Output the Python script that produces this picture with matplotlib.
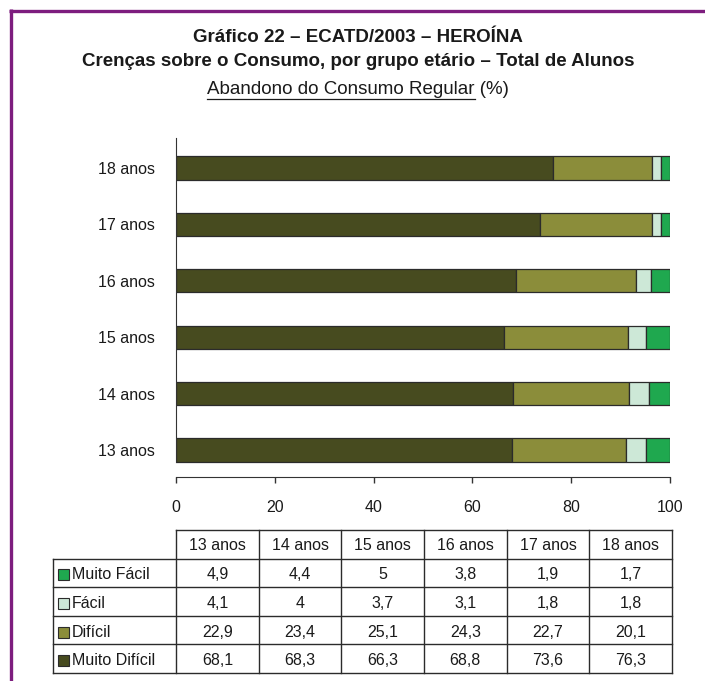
import numpy as np
import matplotlib
matplotlib.use("Agg")
import matplotlib.pyplot as plt
from matplotlib.patches import Rectangle

plt.rcParams['font.family'] = ['Liberation Sans', 'DejaVu Sans']

# data (%)
idades = ['13 anos', '14 anos', '15 anos', '16 anos', '17 anos', '18 anos']
muito_facil = [4.9, 4.4, 5.0, 3.8, 1.9, 1.7]
facil = [4.1, 4.0, 3.7, 3.1, 1.8, 1.8]
dificil = [22.9, 23.4, 25.1, 24.3, 22.7, 20.1]
muito_dificil = [68.1, 68.3, 66.3, 68.8, 73.6, 76.3]

categorias = ['Muito Fácil', 'Fácil', 'Difícil', 'Muito Difícil']
cores = ['#1fa84f', '#cde8d7', '#8b8d3a', '#474b1f']

W, H = 705, 681
fig = plt.figure(figsize=(W / 100, H / 100), dpi=100)

# overlay in pixel coordinates for frame, titles and table
ov = fig.add_axes([0, 0, 1, 1])
ov.set_xlim(0, W)
ov.set_ylim(H, 0)
ov.axis('off')

purple = '#7d1d7e'
ov.plot([9, W], [10.5, 10.5], color=purple, lw=2.4, solid_capstyle='butt')
ov.plot([10.5, 10.5], [9, H], color=purple, lw=2.4, solid_capstyle='butt')

cx = 358
ov.text(cx, 38, 'Gráfico 22 – ECATD/2003 – HEROÍNA', ha='center', va='center',
        fontsize=13.5, fontweight='bold', color='#1a1a1a')
ov.text(cx, 62, 'Crenças sobre o Consumo, por grupo etário – Total de Alunos',
        ha='center', va='center', fontsize=13.5, fontweight='bold', color='#1a1a1a')
sub = ov.text(cx, 89, 'Abandono do Consumo Regular (%)', ha='center', va='center',
              fontsize=13.5, color='#1a1a1a')
tail = ov.text(0, -100, ' (%)', fontsize=13.5)
fig.canvas.draw()
r = fig.canvas.get_renderer()
bb = sub.get_window_extent(r)
tw = tail.get_window_extent(r).width
tail.remove()
ov.plot([bb.x0, bb.x1 - tw], [99, 99], color='#1a1a1a', lw=0.9)

# bar chart
ax = fig.add_axes([176 / W, (H - 477) / H, 494 / W, 339 / H])
y = np.arange(len(idades))
series = [muito_dificil, dificil, facil, muito_facil]
serie_cores = [cores[3], cores[2], cores[1], cores[0]]
left = np.zeros(len(idades))
for vals, c in zip(series, serie_cores):
    ax.barh(y, vals, left=left, height=0.41, color=c, edgecolor='#2b2b2b', linewidth=0.9)
    left = left + np.array(vals)

ax.set_xlim(0, 100)
ax.set_ylim(-0.479, 5.532)
ax.set_xticks([0, 20, 40, 60, 80, 100])
ax.set_yticks(y)
ax.set_yticklabels(idades)
for s in ['top', 'right']:
    ax.spines[s].set_visible(False)
ax.spines['left'].set_bounds(-0.213, 5.532)
ax.spines['left'].set_color('#333333')
ax.spines['bottom'].set_color('#333333')
ax.tick_params(axis='y', length=0, pad=15, labelsize=11.5, colors='#1a1a1a')
ax.tick_params(axis='x', length=4.5, width=1, pad=12, labelsize=11.5, colors='#333333',
               labelcolor='#1a1a1a')

# table below
tx0, tlab, tx1 = 53, 176, 672
ty = np.linspace(530, 673, 6)
cols = np.linspace(tlab, tx1, len(idades) + 1)
lc = '#2b2b2b'
ov.plot([tlab, tx1], [ty[0], ty[0]], color=lc, lw=1)
for yy in ty[1:]:
    ov.plot([tx0, tx1], [yy, yy], color=lc, lw=1)
ov.plot([tx0, tx0], [ty[1], ty[-1]], color=lc, lw=1)
for xx in cols:
    ov.plot([xx, xx], [ty[0], ty[-1]], color=lc, lw=1)

for j, lab in enumerate(idades):
    ov.text((cols[j] + cols[j + 1]) / 2, (ty[0] + ty[1]) / 2 + 1, lab,
            ha='center', va='center', fontsize=11.5, color='#1a1a1a')

tabela = [muito_facil, facil, dificil, muito_dificil]
for i, (cat, vals) in enumerate(zip(categorias, tabela)):
    yc = (ty[i + 1] + ty[i + 2]) / 2 + 2
    ov.add_patch(Rectangle((58, yc - 5.5), 11, 11, facecolor=cores[i],
                           edgecolor='#2b2b2b', lw=0.8))
    ov.text(72, yc, cat, ha='left', va='center', fontsize=11.5, color='#1a1a1a')
    for j, v in enumerate(vals):
        ov.text((cols[j] + cols[j + 1]) / 2, yc, f'{v:g}'.replace('.', ','),
                ha='center', va='center', fontsize=11.5, color='#1a1a1a')

fig.savefig('out.png', dpi=100)
